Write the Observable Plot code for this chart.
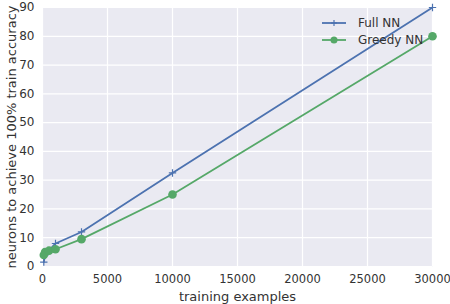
<!DOCTYPE html>
<html><head><meta charset="utf-8">
<script src="https://cdn.jsdelivr.net/npm/d3@7"></script>
<script src="https://cdn.jsdelivr.net/npm/@observablehq/plot@0.6"></script>
<style>
body{margin:0;background:#fff;font-family:"DejaVu Sans",sans-serif;}
#wrap{position:relative;width:450px;height:304px;}
#legend{position:absolute;left:322px;top:14px;font-size:12px;color:#333;}
#legend div{display:flex;align-items:center;height:17px;}
#legend svg{margin-right:10px;}
</style></head>
<body><div id="wrap"><div id="legend"></div></div>
<script>
const examples = [100, 200, 500, 1000, 3000, 10000, 30000];
const fullNN = [1.5, 4, 5.5, 8, 12, 32.5, 90];
const greedyNN = [4, 5, 5.5, 6, 9.5, 25, 80];
const xTicks = [0, 5000, 10000, 15000, 20000, 25000, 30000];
const yTicks = [0, 10, 20, 30, 40, 50, 60, 70, 80, 90];
const seriesNames = ["Full NN", "Greedy NN"];
const colors = ["#4C72B0", "#55A868"];

const full = examples.map((x, i) => ({x, y: fullNN[i]}));
const greedy = examples.map((x, i) => ({x, y: greedyNN[i]}));

const chart = Plot.plot({
  width: 450, height: 304,
  marginLeft: 42, marginRight: 18, marginTop: 7, marginBottom: 38,
  style: {fontFamily: "DejaVu Sans, sans-serif", fontSize: "12px", color: "#333", background: "#fff"},
  x: {domain: [0, 30000]},
  y: {domain: [0, 90]},
  marks: [
    Plot.frame({fill: "#EAEAF2", stroke: null}),
    Plot.ruleX(xTicks, {stroke: "#fff", strokeWidth: 1.2}),
    Plot.ruleY(yTicks, {stroke: "#fff", strokeWidth: 1.2}),
    Plot.axisX({ticks: xTicks, tickSize: 0, tickPadding: 8, tickFormat: d => String(d), label: null, fontSize: 11.5}),
    Plot.axisY({ticks: yTicks, tickSize: 0, tickPadding: 8, label: null, fontSize: 12}),
    Plot.axisX({ticks: [], tickSize: 0, label: "training examples", labelAnchor: "center", labelArrow: "none", labelOffset: 34, fontSize: 13}),
    Plot.axisY({ticks: [], tickSize: 0, label: "neurons to achieve 100% train accuracy", labelAnchor: "center", labelArrow: "none", labelOffset: 36, fontSize: 13}),
    Plot.line(full, {x: "x", y: "y", stroke: colors[0], strokeWidth: 1.8}),
    Plot.dot(full, {x: "x", y: "y", symbol: "plus", r: 2.5, stroke: colors[0], strokeWidth: 1.2}),
    Plot.line(greedy, {x: "x", y: "y", stroke: colors[1], strokeWidth: 1.8}),
    Plot.dot(greedy, {x: "x", y: "y", symbol: "circle", r: 4.3, fill: colors[1], stroke: null}),
  ]
});
chart.style.overflow = "visible";
document.getElementById("wrap").prepend(chart);

const legend = document.getElementById("legend");
seriesNames.forEach((name, i) => {
  const row = document.createElement("div");
  const marker = i === 0
    ? `<line x1="12" y1="2" x2="12" y2="8" stroke="${colors[i]}" stroke-width="1.2"/><line x1="9" y1="5" x2="15" y2="5" stroke="${colors[i]}" stroke-width="1.2"/>`
    : `<circle cx="12" cy="5" r="3.5" fill="${colors[i]}"/>`;
  row.innerHTML = `<svg width="26" height="10"><line x1="0" y1="5" x2="24" y2="5" stroke="${colors[i]}" stroke-width="1.8"/>${marker}</svg><span>${name}</span>`;
  legend.appendChild(row);
});
</script></body></html>
